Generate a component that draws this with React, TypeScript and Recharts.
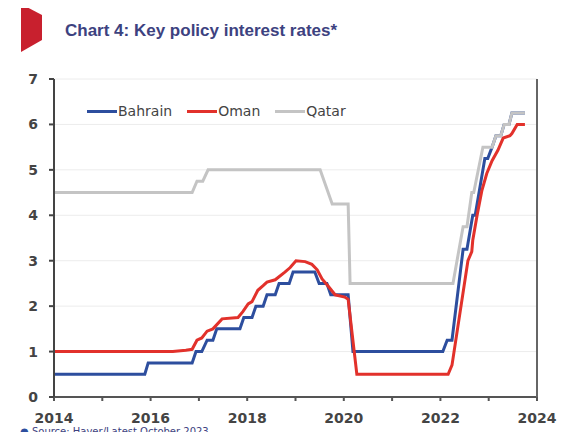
import React from 'react';
import { LineChart, Line, XAxis, YAxis, CartesianGrid, Legend } from 'recharts';

// [year, rate %]
const bahrain: [number, number][] = [
  [2014.0, 0.5], [2015.88, 0.5], [2015.95, 0.75], [2016.86, 0.75], [2016.94, 1.0], [2017.06, 1.0],
  [2017.17, 1.25], [2017.29, 1.25], [2017.37, 1.5], [2017.85, 1.5], [2017.93, 1.75], [2018.1, 1.75],
  [2018.18, 2.0], [2018.33, 2.0], [2018.41, 2.25], [2018.58, 2.25], [2018.66, 2.5], [2018.87, 2.5],
  [2018.95, 2.75], [2019.4, 2.75], [2019.49, 2.5], [2019.65, 2.5], [2019.73, 2.25], [2020.09, 2.25],
  [2020.19, 1.0], [2022.05, 1.0], [2022.14, 1.25], [2022.24, 1.25], [2022.47, 3.25], [2022.55, 3.25],
  [2022.67, 4.0], [2022.72, 4.0], [2022.92, 5.25], [2022.98, 5.25], [2023.07, 5.5], [2023.15, 5.75],
  [2023.25, 5.75], [2023.32, 6.0], [2023.42, 6.0], [2023.48, 6.25], [2023.75, 6.25],
];

const oman: [number, number][] = [
  [2014.0, 1.0], [2016.46, 1.0], [2016.73, 1.03], [2016.86, 1.05], [2016.96, 1.25], [2017.06, 1.3],
  [2017.17, 1.45], [2017.29, 1.5], [2017.48, 1.72], [2017.81, 1.75], [2017.91, 1.88], [2018.02, 2.05],
  [2018.1, 2.1], [2018.22, 2.35], [2018.33, 2.45], [2018.41, 2.53], [2018.58, 2.58], [2018.78, 2.75],
  [2018.89, 2.85], [2019.01, 3.0], [2019.2, 2.98], [2019.34, 2.92], [2019.45, 2.8], [2019.55, 2.6],
  [2019.67, 2.45], [2019.82, 2.25], [2020.02, 2.2], [2020.09, 2.15], [2020.27, 0.5], [2022.16, 0.5],
  [2022.24, 0.7], [2022.57, 3.0], [2022.65, 3.2], [2022.67, 3.45], [2022.76, 4.0], [2022.86, 4.55],
  [2022.96, 4.92], [2023.07, 5.2], [2023.19, 5.43], [2023.3, 5.7], [2023.44, 5.75], [2023.48, 5.8],
  [2023.59, 6.0], [2023.75, 6.0],
];

const qatar: [number, number][] = [
  [2014.0, 4.5], [2016.86, 4.5], [2016.96, 4.75], [2017.08, 4.75], [2017.19, 5.0], [2019.51, 5.0],
  [2019.76, 4.25], [2020.09, 4.25], [2020.13, 2.5], [2022.26, 2.5], [2022.47, 3.75], [2022.55, 3.75],
  [2022.65, 4.5], [2022.69, 4.5], [2022.88, 5.5], [2023.07, 5.5], [2023.15, 5.75], [2023.25, 5.75],
  [2023.32, 6.0], [2023.42, 6.0], [2023.48, 6.25], [2023.75, 6.25],
];

const yearTicks = [2014, 2015, 2016, 2017, 2018, 2019, 2020, 2021, 2022, 2023, 2024];
const rateTicks = [0, 1, 2, 3, 4, 5, 6, 7];

const series = [
  { name: 'Bahrain', color: '#2d4e9e', points: bahrain },
  { name: 'Oman', color: '#e2312b', points: oman },
  { name: 'Qatar', color: '#c4c4c4', points: qatar },
];

const FONT = '"DejaVu Sans", sans-serif';
const tickStyle = { fill: '#444', fontSize: 14, fontWeight: 700, fontFamily: FONT };

const LegendRow = () => (
  <div style={{ display: 'flex', alignItems: 'center', fontFamily: FONT, fontSize: 14, color: '#444' }}>
    {series.map(s => (
      <div key={s.name} style={{ display: 'flex', alignItems: 'center', marginRight: 15 }}>
        <span style={{ display: 'inline-block', width: 30, height: 3, background: s.color, marginRight: 1 }} />
        <span>{s.name}</span>
      </div>
    ))}
  </div>
);

export default function App() {
  return (
    <div style={{ position: 'relative', width: 587, height: 440, margin: -8, overflow: 'hidden', background: '#fff' }}>
      <svg width={50} height={60} style={{ position: 'absolute', left: 0, top: 0 }}>
        <polygon points="21,4 42,15 42,40 21,52" fill="#c8202e" />
      </svg>
      <div style={{ position: 'absolute', left: 65, top: 21, fontFamily: '"Liberation Sans", Arial, sans-serif', fontWeight: 700, fontSize: 17, color: '#3d4280' }}>
        Chart 4: Key policy interest rates*
      </div>

      <div style={{ position: 'absolute', left: 0, top: 0 }}>
        <LineChart width={565} height={440} margin={{ top: 79, right: 0, bottom: 13, left: 0 }}>
          <CartesianGrid horizontal vertical={false} stroke="#ececec" strokeWidth={1} />
          <XAxis
            type="number"
            dataKey="x"
            domain={[2014, 2024]}
            ticks={yearTicks}
            interval={0}
            tickFormatter={(v: number) => (v % 2 === 0 ? String(v) : '')}
            height={30}
            tickSize={4}
            tickMargin={12}
            stroke="#555"
            strokeWidth={2}
            tick={tickStyle}
            allowDataOverflow
          />
          <YAxis
            domain={[0, 7]}
            ticks={rateTicks}
            width={54}
            tickSize={5}
            tickMargin={11}
            stroke="#444"
            strokeWidth={2}
            tick={tickStyle}
          />
          <YAxis
            yAxisId="r"
            orientation="right"
            domain={[0, 7]}
            ticks={rateTicks}
            width={28}
            tickSize={5}
            tickMargin={11}
            stroke="#666"
            strokeWidth={2}
            tick={{ ...tickStyle, textAnchor: 'start' }}
            tickFormatter={(v: number) => `${v}%`}
          />
          <Legend
            verticalAlign="middle"
            content={() => <LegendRow />}
            wrapperStyle={{ position: 'absolute', left: 87, top: 103, width: 'auto' }}
          />
          {series.map(s => (
            <Line
              key={s.name}
              name={s.name}
              data={s.points.map(([x, y]) => ({ x, y }))}
              dataKey="y"
              type="linear"
              stroke={s.color}
              strokeWidth={3}
              dot={false}
              activeDot={false}
              isAnimationActive={false}
            />
          ))}
        </LineChart>
      </div>

      <div style={{ position: 'absolute', left: 20, top: 426, fontFamily: FONT, fontSize: 10, lineHeight: '12px', color: '#3d4280', whiteSpace: 'nowrap' }}>
        <span style={{ color: '#2d4e9e' }}>●</span> Source: Haver/Latest October 2023
      </div>
    </div>
  );
}
